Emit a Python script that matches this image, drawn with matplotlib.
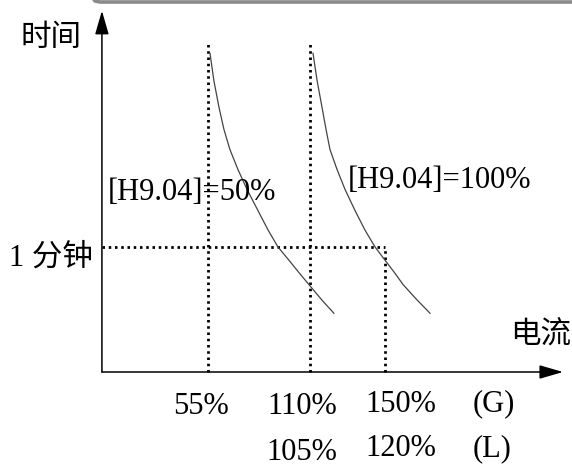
import matplotlib
matplotlib.use('Agg')
import matplotlib.pyplot as plt
from matplotlib.lines import Line2D

# current (% of rated, G type) and time (1 = one minute)
curve_50_i = [56.1, 58.2, 60.9, 63.6, 66.8, 71.1, 76.0, 81.9, 87.3, 92.6,
              99.0, 104.4, 110.3, 116.2, 122.6]
curve_100_i = [111.4, 113.6, 116.2, 118.4, 120.5, 124.3, 128.6, 134.0, 139.3,
               144.7, 150.0, 154.9, 159.7, 166.7, 174.2]
curve_50_t = [2.55, 2.33, 2.12, 1.94, 1.78, 1.62, 1.46, 1.29, 1.135, 1.00,
              0.885, 0.785, 0.68, 0.575, 0.47]
curve_100_t = [2.55, 2.33, 2.12, 1.94, 1.78, 1.62, 1.46, 1.29, 1.135, 1.00,
               0.895, 0.80, 0.70, 0.585, 0.47]

limit_i = [55, 110, 150]
limit_top = [2.64, 2.64, 1.0]
one_minute = 1.0

labels_g = ['55%', '110%', '150%', '(G)']
labels_l = ['105%', '120%', '(L)']

serif_cjk = ['Liberation Serif', 'Noto Sans CJK SC']
fs = 22

fig = plt.figure(figsize=(5.72, 4.67), dpi=100)
ax = fig.add_axes([0, 0, 1, 1])
ax.set_xlim(-56.6, 250.4)
ax.set_ylim(-0.76, 2.976)
ax.axis('off')

x0 = -1.9
# axes with arrows
arr = dict(arrowstyle='-|>,head_length=1.45,head_width=0.42', mutation_scale=10,
           color='black', lw=1.1, shrinkA=0, shrinkB=0)
ax.annotate('', xy=(245.6, 0), xytext=(x0, 0), arrowprops=arr)
ax.annotate('', xy=(x0, 2.89), xytext=(x0, 0), arrowprops=arr)

# dotted guide lines
dot = dict(color='black', lw=2.0, linestyle=(0, (0.9, 1.35)))
for i, top in zip(limit_i, limit_top):
    ax.plot([i, i], [0, top], **dot)
ax.plot([x0, limit_i[2]], [one_minute, one_minute], **dot)

# overload curves
ax.plot(curve_50_i, curve_50_t, color='#444444', lw=0.9)
ax.plot(curve_100_i, curve_100_t, color='#444444', lw=0.9)

# labels
cjk = dict(family=serif_cjk, fontsize=fs, fontweight='light')
ax.text(-29.3, 2.664, '时间', ha='center', va='center', **cjk)
ax.text(-6.7, 0.91, '1 分钟', ha='right', va='center', **cjk)
ax.text(233.8, 0.29, '电流', ha='center', va='center', **cjk)
ax.text(1.3, 1.44, '[H9.04]=50%', family=serif_cjk, fontsize=fs, ha='left', va='center')
ax.text(130.2, 1.53, '[H9.04]=100%', family=serif_cjk, fontsize=fs, ha='left', va='center')

for x, y, s in zip([51.3, 105.5, 158.6, 208.5], [-0.28, -0.28, -0.256, -0.256], labels_g):
    ax.text(x, y, s, family=serif_cjk, fontsize=fs, ha='center', va='center')
for x, y, s in zip([105.5, 158.6, 207.5], [-0.648, -0.616, -0.616], labels_l):
    ax.text(x, y, s, family=serif_cjk, fontsize=fs, ha='center', va='center')

# gray frame edge at the top
fig.add_artist(Line2D([88 / 572, 95 / 572, 100 / 572, 1.0],
                      [1.02, 1 - 1 / 467, 1 - 2 / 467, 1 - 2 / 467],
                      transform=fig.transFigure, color='#8a8a8a', lw=2.6))

fig.savefig('out.png', dpi=100)
